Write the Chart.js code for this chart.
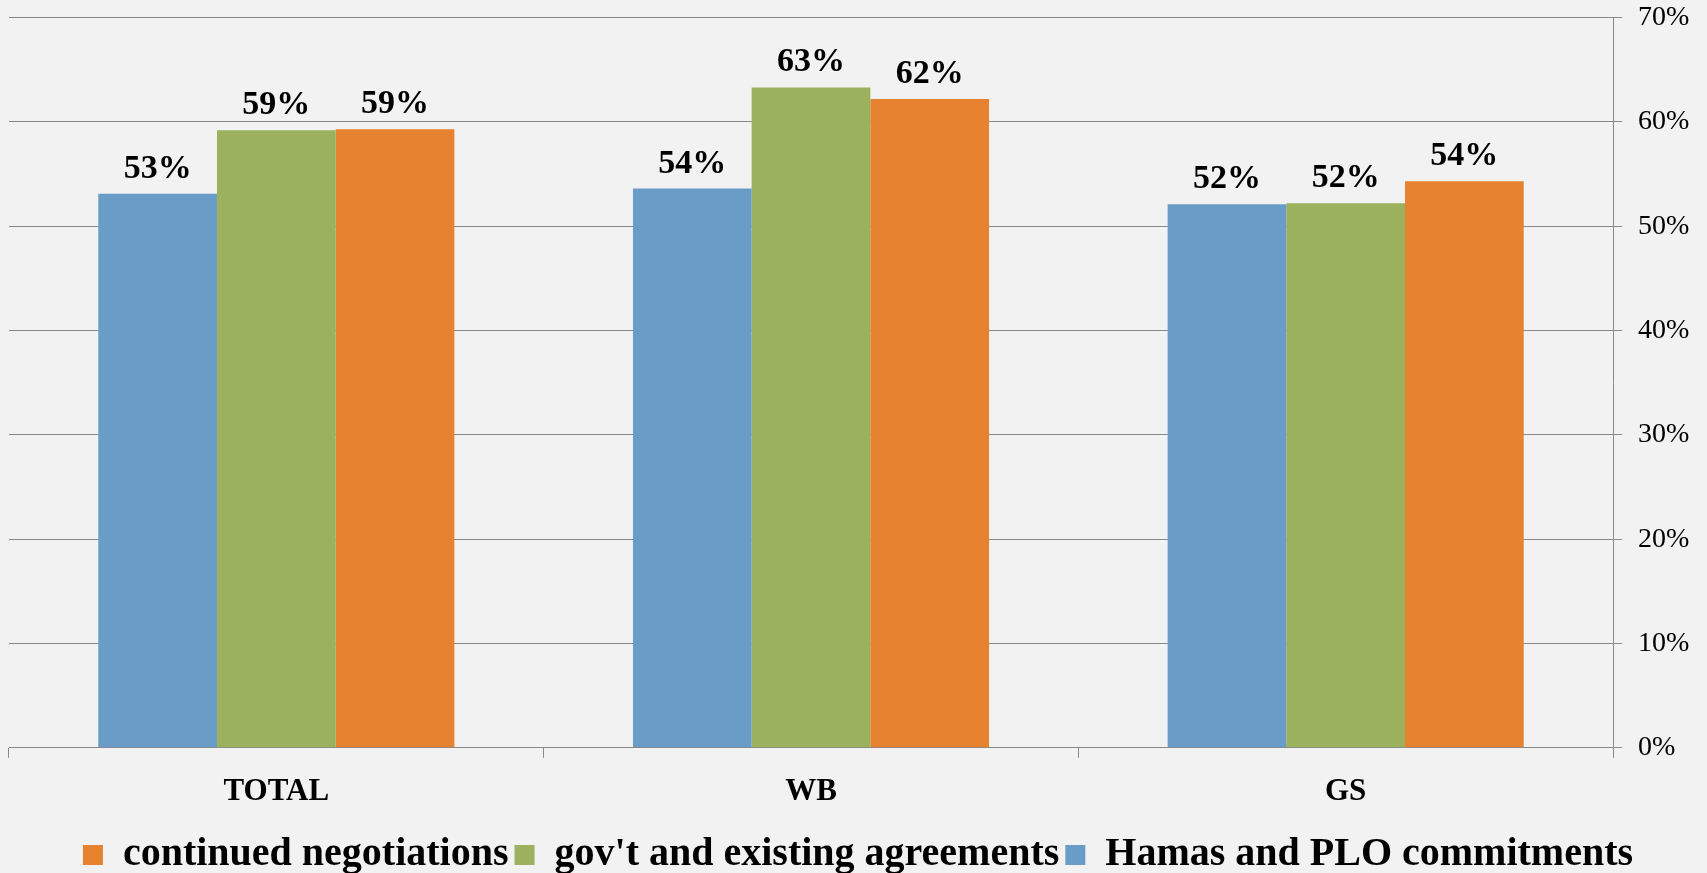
<!DOCTYPE html>
<html>
<head>
<meta charset="utf-8">
<script src="https://cdn.jsdelivr.net/npm/chart.js@4.4.1/dist/chart.umd.min.js"></script>
<style>
  html, body { margin: 0; padding: 0; background: #f2f2f2; }
  #wrap { width: 1707px; height: 873px; position: relative; }
</style>
</head>
<body>
<div id="wrap"><canvas id="c"></canvas></div>
<script>
const categories = ['TOTAL', 'WB', 'GS'];
const seriesNames = ['Hamas and PLO commitments', "gov't and existing agreements", 'continued negotiations'];
const hamasPLO = [53.1, 53.6, 52.1];
const govAgreements = [59.2, 63.3, 52.2];
const continuedNeg = [59.3, 62.2, 54.3];
const yTicks = [0, 10, 20, 30, 40, 50, 60, 70];

const colors = ['#6a9cc8', '#9bb15e', '#e78231'];
const serif = "'Liberation Serif', 'Times New Roman', serif";

const valueLabels = {
  id: 'valueLabels',
  afterDatasetsDraw(chart) {
    const ctx = chart.ctx;
    ctx.save();
    ctx.font = 'bold 34px ' + serif;
    ctx.fillStyle = '#000';
    ctx.textAlign = 'center';
    ctx.textBaseline = 'alphabetic';
    chart.data.datasets.forEach((ds, di) => {
      chart.getDatasetMeta(di).data.forEach((bar, i) => {
        ctx.fillText(Math.round(ds.data[i]) + '%', bar.x, bar.y - 16);
      });
    });
    ctx.restore();
  }
};

new Chart(document.getElementById('c'), {
  type: 'bar',
  data: {
    labels: categories,
    datasets: [
      { label: seriesNames[0], data: hamasPLO, backgroundColor: colors[0] },
      { label: seriesNames[1], data: govAgreements, backgroundColor: colors[1] },
      { label: seriesNames[2], data: continuedNeg, backgroundColor: colors[2] }
    ]
  },
  options: {
    responsive: true,
    maintainAspectRatio: false,
    animation: false,
    devicePixelRatio: 1,
    layout: { padding: { left: 9, right: 0, top: 17.5, bottom: -12 } },
    datasets: { bar: { categoryPercentage: 0.666, barPercentage: 1.0, borderWidth: 0 } },
    plugins: {
      legend: {
        position: 'bottom',
        reverse: true,
        labels: {
          font: { family: serif, size: 40, weight: 'bold' },
          color: '#000',
          boxWidth: 20,
          boxHeight: 20,
          padding: 6
        }
      },
      tooltip: { enabled: false }
    },
    scales: {
      x: {
        offset: true,
        afterFit(scale) { scale.height = scale.height + 2; },
        grid: { offset: true, drawOnChartArea: false, drawTicks: true, tickLength: 10, color: '#888' },
        border: { display: true, color: '#888', width: 1 },
        ticks: { font: { family: serif, size: 31, weight: 'bold' }, color: '#000', padding: 16 }
      },
      y: {
        position: 'right',
        min: 0,
        max: 70,
        afterBuildTicks(scale) { scale.ticks = yTicks.map(v => ({ value: v })); },
        afterFit(scale) { scale.width = 94; scale.paddingTop = 0; scale.paddingBottom = 0; },
        grid: { color: '#888', lineWidth: 1, drawTicks: true, tickLength: 9 },
        border: { display: true, color: '#888', width: 1 },
        ticks: {
          font: { family: serif, size: 28 },
          color: '#000',
          padding: 16,
          callback: v => v + '%'
        }
      }
    }
  },
  plugins: [valueLabels]
});
</script>
</body>
</html>
